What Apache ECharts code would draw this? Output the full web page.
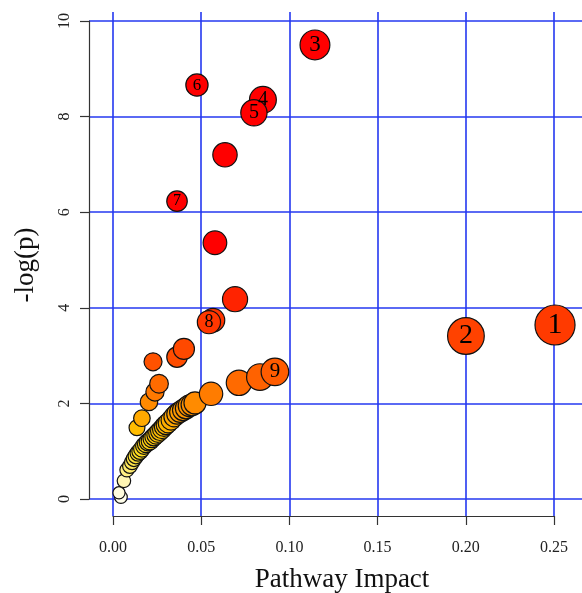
<!DOCTYPE html>
<html>
<head>
<meta charset="utf-8">
<script src="https://cdn.jsdelivr.net/npm/echarts@6/dist/echarts.min.js"></script>
<style>
html, body { margin: 0; padding: 0; background: #fff; }
#chart { width: 582px; height: 593px; }
</style>
</head>
<body>
<div id="chart"></div>
<script>
// pathway impact (x) and -log(p) (y)
const impact = [
    0.0045, 0.0034, 0.0062, 0.0079, 0.0096, 0.0108, 0.0119, 0.0130, 0.0142, 0.0153,
    0.0164, 0.0176, 0.0187, 0.0198, 0.0210, 0.0221, 0.0232, 0.0244, 0.0255, 0.0266,
    0.0278, 0.0289, 0.0300, 0.0312, 0.0329, 0.0346, 0.0363, 0.0380, 0.0397, 0.0414,
    0.0431, 0.0448, 0.0465,
    0.0136, 0.0164, 0.0204, 0.0238, 0.0261, 0.0227, 0.0363, 0.0402,
    0.0556, 0.0714, 0.0833, 0.0918,
    0.0567, 0.0544, 0.0692, 0.0578, 0.0635, 0.0363, 0.0476, 0.0850, 0.0799, 0.1145,
    0.2001, 0.2506
];
const logP = [
    0.04, 0.13, 0.38, 0.61, 0.69, 0.77, 0.84, 0.90, 0.96, 1.00,
    1.05, 1.11, 1.15, 1.19, 1.21, 1.26, 1.30, 1.34, 1.38, 1.42,
    1.46, 1.51, 1.55, 1.59, 1.65, 1.72, 1.78, 1.82, 1.86, 1.90,
    1.95, 1.97, 2.01,
    1.49, 1.69, 2.03, 2.24, 2.41, 2.87, 2.97, 3.14,
    2.20, 2.43, 2.55, 2.66,
    3.74, 3.70, 4.18, 5.36, 7.20, 6.23, 8.66, 8.35, 8.08, 9.50,
    3.41, 3.64
];
const pathwayIds = [
    '', '', '', '', '', '', '', '', '', '',
    '', '', '', '', '', '', '', '', '', '',
    '', '', '', '', '', '', '', '', '', '',
    '', '', '',
    '', '', '', '', '', '', '', '',
    '', '', '', '9',
    '', '8', '', '', '', '7', '6', '4', '5', '3',
    '2', '1'
];
const xTicks = [0, 0.05, 0.10, 0.15, 0.20, 0.25];
const yTicks = [0, 2, 4, 6, 8, 10];

const serif = '"Liberation Serif", "DejaVu Serif", serif';
const gridBlue = '#2438f0';
const axisGray = '#333';

const sizeOf = x => 8.5 + 63 * Math.sqrt(x);

const seriesData = impact.map((x, i) => {
    const s = sizeOf(x);
    return {
        value: [x, logP[i]],
        name: pathwayIds[i],
        label: { show: pathwayIds[i] !== '', fontSize: Math.round(s * 0.76) }
    };
});

const chart = echarts.init(document.getElementById('chart'));
const option = {
    backgroundColor: '#fff',
    animation: false,
    grid: [
        { left: 89, right: 0, top: 12, bottom: 77 },   // data
        { left: 89, right: 0, top: 21, bottom: 94 },   // y axis + horizontal lines
        { left: 113, right: 28, top: 12, bottom: 77 }  // x axis + vertical lines
    ],
    xAxis: [
        { gridIndex: 0, type: 'value', min: -0.0136, max: 0.2659, show: false },
        { gridIndex: 1, type: 'value', min: 0, max: 1, show: false },
        {
            gridIndex: 2, type: 'value',
            min: xTicks[0], max: xTicks[xTicks.length - 1], interval: 0.05,
            axisLine: { show: true, onZero: false, lineStyle: { color: axisGray, width: 1.2 } },
            axisTick: { show: true, length: 9, lineStyle: { color: axisGray, width: 1.2 } },
            axisLabel: {
                margin: 24, fontSize: 16, fontFamily: serif, color: '#222',
                formatter: v => v.toFixed(2)
            },
            splitLine: { show: true, lineStyle: { color: gridBlue, width: 1.6 } }
        }
    ],
    yAxis: [
        { gridIndex: 0, type: 'value', min: -0.3557, max: 10.188, show: false },
        {
            gridIndex: 1, type: 'value',
            min: yTicks[0], max: yTicks[yTicks.length - 1], interval: 2,
            axisLine: { show: true, onZero: false, lineStyle: { color: axisGray, width: 1.2 } },
            axisTick: { show: true, length: 9, lineStyle: { color: axisGray, width: 1.2 } },
            axisLabel: { rotate: 90, margin: 16, fontSize: 16, fontFamily: serif, color: '#222' },
            splitLine: { show: true, lineStyle: { color: gridBlue, width: 1.6 } }
        },
        { gridIndex: 2, type: 'value', min: 0, max: 1, show: false }
    ],
    visualMap: {
        show: false,
        type: 'continuous',
        seriesIndex: 0,
        dimension: 1,
        min: 0,
        max: 5,
        inRange: {
            color: ['#fffff2', '#fff3a0', '#ffe020', '#ffbb00', '#ff8c00', '#ff6400',
                    '#ff4c00', '#ff4000', '#ff2a00', '#ff1600', '#ff0000']
        }
    },
    graphic: [
        {
            type: 'text', x: 342, y: 580,
            style: { text: 'Pathway Impact', fontSize: 27, fontFamily: serif, fill: '#111',
                     align: 'center', verticalAlign: 'middle' }
        },
        {
            type: 'text', x: 26, y: 265, rotation: Math.PI / 2,
            style: { text: '-log(p)', fontSize: 27, fontFamily: serif, fill: '#111',
                     align: 'center', verticalAlign: 'middle' }
        }
    ],
    series: [
        {
            type: 'scatter',
            xAxisIndex: 0,
            yAxisIndex: 0,
            clip: false,
            symbolSize: val => sizeOf(val[0]),
            itemStyle: { borderColor: '#111', borderWidth: 1.2, opacity: 1 },
            label: {
                show: true,
                position: 'inside',
                color: '#000',
                fontFamily: serif,
                formatter: p => p.name
            },
            emphasis: { disabled: true },
            data: seriesData
        }
    ]
};
chart.setOption(option);
</script>
</body>
</html>
